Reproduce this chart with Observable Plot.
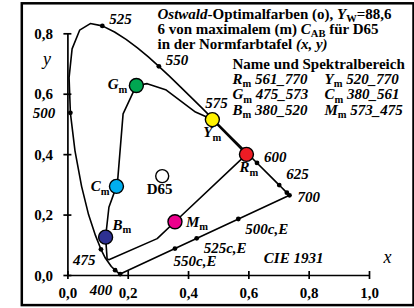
<!DOCTYPE html>
<html><head><meta charset="utf-8">
<script src="https://cdn.jsdelivr.net/npm/d3@7"></script>
<script src="https://cdn.jsdelivr.net/npm/@observablehq/plot@0.6"></script>
<style>html,body{margin:0;padding:0;background:#fff;}</style>
</head><body><div id="chart"></div>
<script>
// CIE 1931 spectral locus (wavelength nm, x, y)
const locusNm = [380,390,400,410,420,430,440,450,460,470,475,480,485,490,495,500,505,510,515,520,525,530,535,540,545,550,555,560,565,570,575,580,585,590,595,600,610,620,625,630,640,650,660,680,700];
const locusX = [0.1741,0.1738,0.1733,0.1726,0.1714,0.1689,0.1644,0.1566,0.1440,0.1241,0.1096,0.0913,0.0687,0.0454,0.0235,0.0082,0.0039,0.0139,0.0389,0.0743,0.1142,0.1547,0.1929,0.2296,0.2658,0.3016,0.3373,0.3731,0.4087,0.4441,0.4788,0.5125,0.5448,0.5752,0.6029,0.6270,0.6658,0.6915,0.7006,0.7079,0.7190,0.7260,0.7300,0.7334,0.7347];
const locusY = [0.0050,0.0049,0.0048,0.0048,0.0051,0.0069,0.0109,0.0177,0.0297,0.0578,0.0868,0.1327,0.2007,0.2950,0.4127,0.5384,0.6548,0.7502,0.8120,0.8338,0.8262,0.8059,0.7816,0.7543,0.7243,0.6923,0.6589,0.6245,0.5896,0.5547,0.5202,0.4866,0.4544,0.4242,0.3965,0.3725,0.3340,0.3083,0.2993,0.2920,0.2809,0.2740,0.2700,0.2666,0.2653];
const dotNm = [400,450,475,500,525,550,575,600,625,650,700];
const labelNm = [400,475,500,525,550,575,600,625,700];
const purpleNm = [400,700];
// complementary wavelengths on the purple line
const compLabels = ["500c,E","525c,E","550c,E"];
const compX = [0.565,0.427,0.355];
const compY = [0.187,0.123,0.089];
// Ostwald optimal colours of maximal chroma
const optNames = ["R","Y","G","C","B","M"];
const optX = [0.592,0.479,0.227,0.161,0.125,0.355];
const optY = [0.401,0.516,0.629,0.295,0.127,0.178];
const optColors = ["#ed1c24","#fff200","#00a651","#00aeef","#2e3192","#ec008c"];
const optRanges = ["561_770","520_770","475_573","380_561","380_520","573_475"];
// boundary path R-Y-G-C-B-M-R
const pathX = [0.592,0.479,0.423,0.324,0.263,0.227,0.183,0.165,0.161,0.136,0.125,0.130,0.136,0.296,0.355,0.592];
const pathY = [0.401,0.516,0.541,0.615,0.635,0.629,0.535,0.315,0.295,0.226,0.127,0.055,0.052,0.122,0.178,0.401];
const whiteName = ["D65"], whiteX = [0.3127], whiteY = [0.3290];
const xTicks = [0,0.2,0.4,0.6,0.8,1.0];
const xTickLabels = ["0,0","0,2","0,4","0,6","0,8","1,0"];
const yTicks = [0,0.2,0.4,0.6,0.8];
const yTickLabels = ["0,0","0,2","0,4","0,6","0,8"];
const titleLines = ["*Ostwald*-Optimalfarben (o), *Y*_{W}=88,6","6 von maximalem (m) *C*_{AB} für D65","in der Normfarbtafel *(x, y)*"];
const legendTitle = "Name und Spektralbereich";
const cornerNote = "CIE 1931";
const axisNames = ["x","y"];

// ---- tables
const locus = locusNm.map((nm,i)=>({nm, x:locusX[i], y:locusY[i]}));
const byNm = nm => locus.filter(d=>d.nm===nm);
const purple = purpleNm.map(nm => byNm(nm)[0]);
const comp = compLabels.map((l,i)=>({l, x:compX[i], y:compY[i]}));
const opt = optNames.map((n,i)=>({n, x:optX[i], y:optY[i], c:optColors[i], r:optRanges[i]}));
const path = pathX.map((x,i)=>({x, y:pathY[i]}));
const white = whiteName.map((n,i)=>({n, x:whiteX[i], y:whiteY[i]}));

// ---- layout
const W=414, H=308, ML=67.4, MR=45, MT=33.3, MB=33, FS=15;
const nmPos = {400:[-8,21,"end"],475:[-5.5,16,"end"],500:[-15,5.5,"end"],525:[7,-1.5,"start"],550:[7,-1,"start"],575:[-7,-10,"start"],600:[7,-1,"start"],625:[7,-6.5,"start"],700:[8,6.5,"start"]};
const compPos = {"500c,E":[7,14.5,"start"],"525c,E":[7,14.5,"start"],"550c,E":[-1.5,17,"start"]};
const optPos = {R:[-7,18,"start"],Y:[-9,17.7,"start"],G:[-9,4,"end"],C:[-7,5,"end"],B:[7,-7.5,"start"],M:[11,5,"start"]};
const note = (t, px, py, o={}) => Plot.text([t], {frameAnchor:"top-left", dx:px-ML, dy:py-MT, text:d=>d, textAnchor:"start", lineAnchor:"bottom", ...o});

const marks = [
  Plot.frame({stroke:"black", strokeWidth:2.5, insetLeft:-(ML-21.3), insetRight:-44, insetTop:-(MT-2.8), insetBottom:-29.6}),
  Plot.ruleX([0], {x:d=>d, y1:()=>0, y2:()=>0.8, strokeWidth:1.7}),
  Plot.ruleY([0], {y:d=>d, x1:()=>0, x2:()=>1, strokeWidth:1.7}),
  Plot.ruleX(xTicks, {x:d=>d, y1:()=>0, y2:()=>0, insetTop:-4, insetBottom:-4, strokeWidth:1.7}),
  Plot.ruleY(yTicks, {y:d=>d, x1:()=>0, x2:()=>0, insetLeft:-4, insetRight:-4, strokeWidth:1.7}),
  Plot.text(xTicks, {x:d=>d, y:()=>0, text:(d,i)=>xTickLabels[i], dy:22, lineAnchor:"bottom"}),
  Plot.text(yTicks, {x:()=>0, y:d=>d, text:(d,i)=>yTickLabels[i], dx:-15, dy:5, textAnchor:"end", lineAnchor:"bottom"}),
  Plot.line(locus, {x:"x", y:"y", strokeWidth:1.6, strokeLinejoin:"round"}),
  Plot.line(purple, {x:"x", y:"y", strokeWidth:1.6}),
  Plot.line(path, {x:"x", y:"y", strokeWidth:1.6, strokeLinejoin:"round"}),
  Plot.dot(locus.filter(d=>dotNm.includes(d.nm)), {x:"x", y:"y", r:2.4, fill:"black"}),
  Plot.dot(comp, {x:"x", y:"y", r:2.4, fill:"black"}),
  Plot.dot(white, {x:"x", y:"y", r:6.5, fill:"white", stroke:"black", strokeWidth:1.4}),
  Plot.dot(opt, {x:"x", y:"y", r:7, fill:"c", stroke:"black", strokeWidth:1.4}),
  ...labelNm.map(nm => Plot.text(byNm(nm), {x:"x", y:"y", text:d=>String(d.nm), dx:nmPos[nm][0], dy:nmPos[nm][1], textAnchor:nmPos[nm][2], lineAnchor:"bottom", fontStyle:"italic"})),
  ...comp.map(c => Plot.text([c], {x:"x", y:"y", text:"l", dx:compPos[c.l][0], dy:compPos[c.l][1], textAnchor:compPos[c.l][2], lineAnchor:"bottom", fontStyle:"italic"})),
  ...opt.map(o => Plot.text([o], {x:"x", y:"y", text:d=>`*${d.n}*_{m}`, dx:optPos[o.n][0], dy:optPos[o.n][1], textAnchor:optPos[o.n][2], lineAnchor:"bottom"})),
  Plot.text(white, {x:"x", y:"y", text:"n", dx:-2.5, dy:17.5, lineAnchor:"bottom"}),
  ...titleLines.map((t,i) => note(t, 157, [18.3,33.3,48.5][i])),
  note(legendTitle, 232, 68),
  ...[0,1,2].flatMap(r => [
    note(`*${opt[2*r].n}*_{m} *${opt[2*r].r}*`, 232, [83,98.5,114][r]),
    note(`*${opt[2*r+1].n}*_{m} *${opt[2*r+1].r}*`, 324, [83,98.5,114][r])
  ]),
  note(cornerNote, 263.3, 262.5, {fontStyle:"italic"}),
  note(axisNames[0], 383, 262.5, {fontStyle:"italic", fontWeight:"normal", fontSize:18}),
  note(axisNames[1], 46.5, 64.5, {fontStyle:"italic", fontWeight:"normal", fontSize:18, textAnchor:"middle"})
];

const chart = Plot.plot({
  width:W, height:H, marginLeft:ML, marginRight:MR, marginTop:MT, marginBottom:MB,
  x:{domain:[0,1], axis:null}, y:{domain:[0,0.8], axis:null}, color:{type:"identity"},
  style:{fontFamily:'"Liberation Serif","Times New Roman",serif', fontSize:FS+"px", fontWeight:"bold", background:"white", color:"black"},
  marks
});

// rich text: *italic*, _{subscript}
function rich(svg) {
  const NS = "http://www.w3.org/2000/svg", SUB = 10.5, SDY = 3.5;
  for (const t of svg.querySelectorAll("text")) {
    const s = t.textContent;
    if (!s.includes("*") && !s.includes("_{")) continue;
    while (t.firstChild) t.removeChild(t.firstChild);
    t.style.whiteSpace = "pre";
    let italic = false, shift = 0, i = 0, buf = "";
    const emit = (str, sub) => {
      const ts = document.createElementNS(NS, "tspan");
      ts.textContent = str;
      ts.setAttribute("font-style", sub ? "normal" : (italic ? "italic" : "normal"));
      if (sub) { ts.setAttribute("font-size", SUB); ts.setAttribute("dy", SDY); shift = SDY; }
      else if (shift) { ts.setAttribute("dy", -shift); shift = 0; }
      t.appendChild(ts);
    };
    while (i < s.length) {
      if (s[i] === "*") { if (buf) emit(buf, false); buf = ""; italic = !italic; i++; }
      else if (s.startsWith("_{", i)) { if (buf) emit(buf, false); buf = ""; const j = s.indexOf("}", i); emit(s.slice(i+2, j), true); i = j + 1; }
      else { buf += s[i]; i++; }
    }
    if (buf) emit(buf, false);
  }
}
rich(chart);
document.getElementById("chart").appendChild(chart);
</script>
</body></html>
